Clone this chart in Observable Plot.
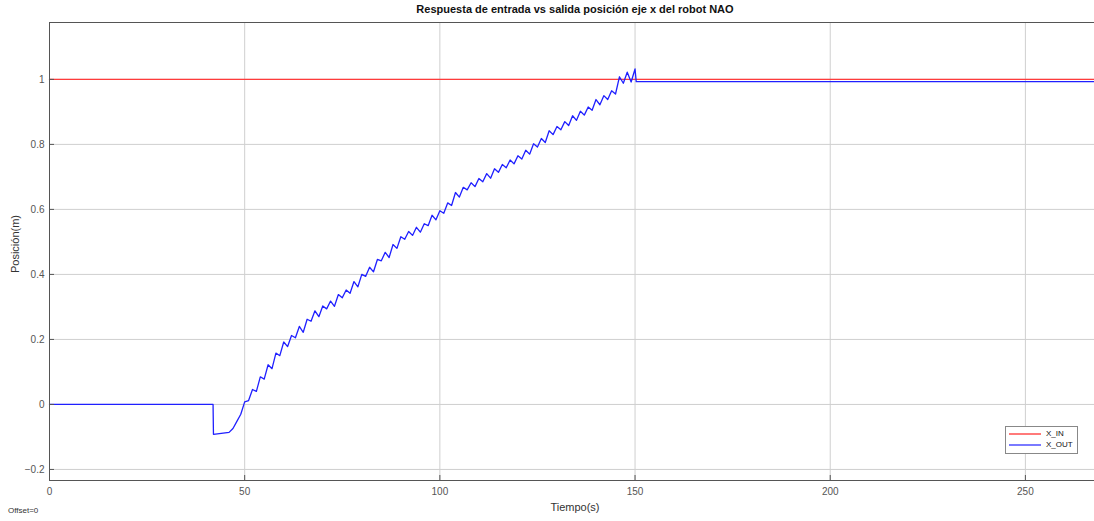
<!DOCTYPE html>
<html><head><meta charset="utf-8">
<script src="https://cdn.jsdelivr.net/npm/d3@7"></script>
<script src="https://cdn.jsdelivr.net/npm/@observablehq/plot@0.6"></script>
<style>
body{margin:0;background:#fff;font-family:"Liberation Sans",Arial,sans-serif;}
#wrap{position:relative;width:1094px;height:521px;overflow:hidden;background:#fff;}
#title{position:absolute;left:325px;top:3px;width:500px;text-align:center;font-weight:bold;font-size:11px;color:#111;}
#xlab{position:absolute;left:475px;top:501px;width:200px;text-align:center;font-size:11px;color:#333;}
#ylab{position:absolute;left:-35px;top:238px;width:100px;text-align:center;font-size:11px;color:#333;transform:rotate(-90deg);}
#offset{position:absolute;left:8px;top:506px;font-size:8px;color:#333;}
#legend{position:absolute;left:1005px;top:426px;width:71px;height:26px;border:1px solid #888;background:#fff;font-size:8px;color:#111;}
.row{position:absolute;left:3px;height:10px;line-height:10px;}
.sw{display:inline-block;width:32px;height:0;vertical-align:middle;margin-right:5px;}
</style></head>
<body>
<div id="wrap">
<div id="plot"></div>
<div id="title"></div>
<div id="xlab"></div>
<div id="ylab"></div>
<div id="offset"></div>
<div id="legend"></div>
</div>
<script>
const titleText = "Respuesta de entrada vs salida posición eje x del robot NAO";
const xLabel = "Tiempo(s)";
const yLabel = "Posición(m)";
const offsetText = "Offset=0";
const seriesNames = ["X_IN", "X_OUT"];
const seriesColors = ["#ff3b3b", "#2020ff"];
const legendColors = ["#ff7a7a", "#7a7aff"];
const xTicks = [0, 50, 100, 150, 200, 250];
const yTicks = [-0.2, 0, 0.2, 0.4, 0.6, 0.8, 1];
const xDomain = [0, 267.7];
const yDomain = [-0.234, 1.175];

const inTime = [0, 268];
const inPos = [1, 1];

const outTime = [0, 41.9, 42, 44, 46, 47, 48, 49, 50, 51, 52, 53, 54, 55, 56, 57, 58, 59, 60,
  61, 62, 63, 64, 65, 66, 67, 68, 69, 70, 71, 72, 73, 74, 75, 76, 77, 78, 79, 80,
  81, 82, 83, 84, 85, 86, 87, 88, 89, 90, 91, 92, 93, 94, 95, 96, 97, 98, 99, 100,
  101, 102, 103, 104, 105, 106, 107, 108, 109, 110, 111, 112, 113, 114, 115, 116, 117, 118, 119, 120,
  121, 122, 123, 124, 125, 126, 127, 128, 129, 130, 131, 132, 133, 134, 135, 136, 137, 138, 139, 140,
  141, 142, 143, 144, 145, 146, 147, 148, 149, 150, 150.3, 268];
const outPos = [0, 0, -0.092, -0.089, -0.086, -0.074, -0.052, -0.030, 0.008, 0.012, 0.046, 0.040, 0.085, 0.078, 0.122, 0.110, 0.158, 0.150, 0.192,
  0.178, 0.212, 0.205, 0.240, 0.222, 0.262, 0.256, 0.288, 0.270, 0.303, 0.294, 0.318, 0.302, 0.338, 0.328, 0.352, 0.342, 0.378, 0.362, 0.400,
  0.394, 0.422, 0.408, 0.446, 0.442, 0.468, 0.452, 0.492, 0.480, 0.516, 0.508, 0.532, 0.520, 0.545, 0.530, 0.556, 0.550, 0.582, 0.568, 0.596,
  0.588, 0.620, 0.612, 0.652, 0.638, 0.668, 0.660, 0.682, 0.670, 0.695, 0.685, 0.710, 0.696, 0.725, 0.714, 0.738, 0.728, 0.752, 0.740, 0.765,
  0.755, 0.782, 0.770, 0.802, 0.792, 0.818, 0.806, 0.842, 0.830, 0.855, 0.845, 0.870, 0.858, 0.888, 0.874, 0.902, 0.890, 0.915, 0.905, 0.938,
  0.922, 0.950, 0.938, 0.965, 0.955, 1.008, 0.988, 1.022, 0.992, 1.032, 0.993, 0.993];

const inData = inTime.map((t, i) => ({t, v: inPos[i]}));
const outData = outTime.map((t, i) => ({t, v: outPos[i]}));

const chart = Plot.plot({
  width: 1094,
  height: 521,
  marginTop: 22,
  marginBottom: 41,
  marginLeft: 49,
  marginRight: 0,
  style: {fontFamily: '"Liberation Sans", Arial, sans-serif', fontSize: "10px", color: "#555", background: "#fff"},
  x: {domain: xDomain, ticks: xTicks},
  y: {domain: yDomain, ticks: yTicks},
  marks: [
    Plot.gridX(xTicks, {stroke: "#cfcfcf", strokeOpacity: 1}),
    Plot.gridY(yTicks, {stroke: "#cfcfcf", strokeOpacity: 1}),
    Plot.axisX(xTicks, {tickSize: 0, tickPadding: 7, label: null, tickFormat: d3.format("")}),
    Plot.axisY(yTicks, {tickSize: 0, tickPadding: 5, label: null, tickFormat: d => d3.format("")(+d.toFixed(1))}),
    Plot.line(inData, {x: "t", y: "v", stroke: seriesColors[0], strokeWidth: 1.4}),
    Plot.line(outData, {x: "t", y: "v", stroke: seriesColors[1], strokeWidth: 1.3}),
    Plot.axisX(xTicks, {tickSize: -5, tickFormat: () => "", label: null, stroke: "#555"}),
    Plot.axisY(yTicks, {tickSize: -5, tickFormat: () => "", label: null, stroke: "#555"}),
    Plot.frame({anchor: "left", stroke: "#555"}),
    Plot.frame({anchor: "bottom", stroke: "#555"}),
    Plot.frame({anchor: "top", stroke: "#555"})
  ]
});
document.getElementById("plot").appendChild(chart);
document.getElementById("title").textContent = titleText;
document.getElementById("xlab").textContent = xLabel;
document.getElementById("ylab").textContent = yLabel;
document.getElementById("offset").textContent = offsetText;
const leg = document.getElementById("legend");
seriesNames.forEach((name, i) => {
  const row = document.createElement("div");
  row.className = "row";
  row.style.top = (i === 0 ? 2 : 13) + "px";
  const sw = document.createElement("span");
  sw.className = "sw";
  sw.style.borderTop = "2px solid " + legendColors[i];
  row.appendChild(sw);
  row.appendChild(document.createTextNode(name));
  leg.appendChild(row);
});
</script>
</body></html>
